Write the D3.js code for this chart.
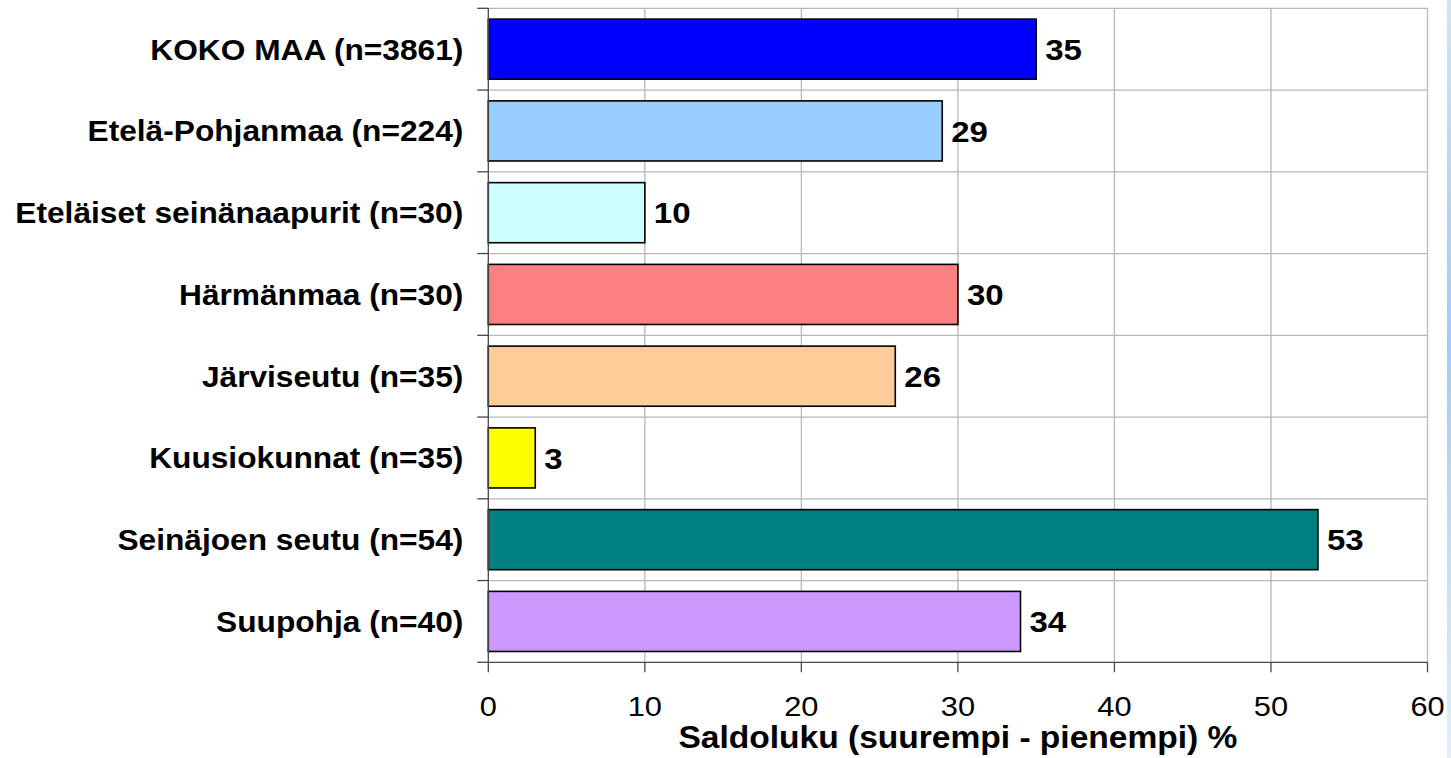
<!DOCTYPE html>
<html>
<head>
<meta charset="utf-8">
<script src="https://cdn.jsdelivr.net/npm/d3@7"></script>
<style>
	html, body { margin: 0; padding: 0; background: #fff; }
	svg { display: block; font-family: "Liberation Sans", Arial, sans-serif; }
</style>
</head>
<body>
<svg id="chart" width="1451" height="758"></svg>
<script>
// Chart data
const categories = [
	"KOKO MAA (n=3861)",
	"Etelä-Pohjanmaa (n=224)",
	"Eteläiset seinänaapurit (n=30)",
	"Härmänmaa (n=30)",
	"Järviseutu (n=35)",
	"Kuusiokunnat (n=35)",
	"Seinäjoen seutu (n=54)",
	"Suupohja (n=40)",
]
const values = [35, 29, 10, 30, 26, 3, 53, 34]
const barColours = ["#0000ff", "#99ccff", "#ccffff", "#ff8080", "#ffcc99", "#ffff00", "#008080", "#cc99ff"]
const xTicks = [0, 10, 20, 30, 40, 50, 60]
const xTitle = "Saldoluku (suurempi - pienempi) %"

// The source image is slightly stretched horizontally, text too
const stretch = 1.1

const plot = { left: 488.3, right: 1427.5, top: 8.3, bottom: 662.3 }

const svg = d3.select("#chart")

const x = d3.scaleLinear()
	.domain([0, 60])
	.range([plot.left, plot.right])

const y = d3.scaleBand()
	.domain(categories)
	.range([plot.top, plot.bottom])
	.paddingInner(0.265)
	.paddingOuter(0.1325)

const step = y.step()
const bandEdges = d3.range(categories.length + 1).map(i => plot.top + i * step)

// Right-edge slide decoration
let grad = svg.append("defs").append("linearGradient")
	.attr("id", "edge")
	.attr("x1", 0).attr("y1", 0).attr("x2", 0).attr("y2", 1)
grad.append("stop").attr("offset", "0%").attr("stop-color", "#cfe3f6")
grad.append("stop").attr("offset", "45%").attr("stop-color", "#a2ccef")
grad.append("stop").attr("offset", "100%").attr("stop-color", "#e3eef9")
svg.append("rect")
	.attr("x", 1447).attr("y", 0)
	.attr("width", 4).attr("height", 758)
	.attr("fill", "url(#edge)")

// Gridlines
let grid = svg.append("g").attr("class", "grid")
	.attr("stroke", "#b8b8b8")
	.attr("stroke-width", 1.3)
grid.selectAll("line.h")
	.data(bandEdges.slice(0, -1))
	.join("line")
	.attr("class", "h")
	.attr("x1", plot.left).attr("x2", plot.right)
	.attr("y1", d => d).attr("y2", d => d)
grid.selectAll("line.v")
	.data(xTicks.slice(1))
	.join("line")
	.attr("class", "v")
	.attr("x1", d => x(d)).attr("x2", d => x(d))
	.attr("y1", plot.top).attr("y2", plot.bottom)

// Bars
svg.append("g").selectAll("rect")
	.data(values)
	.join("rect")
	.attr("x", x(0))
	.attr("y", (d, i) => y(categories[i]))
	.attr("width", d => x(d) - x(0))
	.attr("height", y.bandwidth())
	.attr("fill", (d, i) => barColours[i])
	.attr("stroke", "#000")
	.attr("stroke-width", 1.6)

// Axes
let axes = svg.append("g")
	.attr("stroke", "#474747")
	.attr("stroke-width", 1.3)
axes.append("line")
	.attr("x1", plot.left).attr("x2", plot.left)
	.attr("y1", plot.top).attr("y2", plot.bottom)
axes.append("line")
	.attr("x1", plot.left).attr("x2", plot.right)
	.attr("y1", plot.bottom).attr("y2", plot.bottom)
axes.selectAll("line.ytick")
	.data(bandEdges)
	.join("line")
	.attr("class", "ytick")
	.attr("x1", plot.left - 11).attr("x2", plot.left)
	.attr("y1", d => d).attr("y2", d => d)
axes.selectAll("line.xtick")
	.data(xTicks)
	.join("line")
	.attr("class", "xtick")
	.attr("x1", d => x(d)).attr("x2", d => x(d))
	.attr("y1", plot.bottom).attr("y2", plot.bottom + 10)

// Category labels
svg.append("g").selectAll("text")
	.data(categories)
	.join("text")
	.attr("transform", d => `translate(${plot.left - 25},${y(d) + y.bandwidth() / 2}) scale(${stretch},1)`)
	.attr("dy", "0.36em")
	.attr("text-anchor", "end")
	.attr("font-size", 28.8)
	.attr("font-weight", "bold")
	.attr("fill", "#000")
	.text(d => d)

// Value labels
svg.append("g").selectAll("text")
	.data(values)
	.join("text")
	.attr("transform", (d, i) => `translate(${x(d) + 9},${y(categories[i]) + y.bandwidth() / 2}) scale(${stretch},1)`)
	.attr("dy", "0.36em")
	.attr("font-size", 30)
	.attr("font-weight", "bold")
	.attr("fill", "#000")
	.text(d => d)

// X tick labels
svg.append("g").selectAll("text")
	.data(xTicks)
	.join("text")
	.attr("transform", d => `translate(${x(d)},716) scale(${stretch},1)`)
	.attr("text-anchor", "middle")
	.attr("font-size", 28)
	.attr("fill", "#000")
	.text(d => d)

// X axis title
svg.append("text")
	.attr("transform", `translate(${(plot.left + plot.right) / 2},748) scale(${stretch},1)`)
	.attr("text-anchor", "middle")
	.attr("font-size", 30.5)
	.attr("font-weight", "bold")
	.attr("fill", "#000")
	.text(xTitle)
</script>
</body>
</html>
